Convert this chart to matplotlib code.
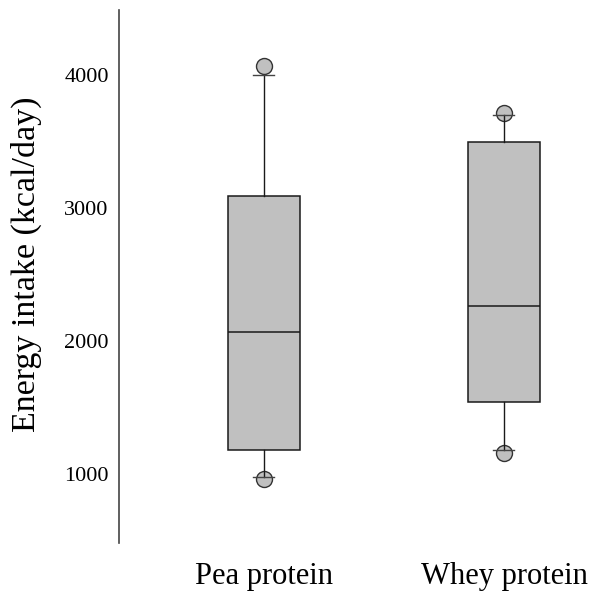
import matplotlib
matplotlib.use("Agg")
import matplotlib.pyplot as plt

plt.rcParams['font.family'] = ['Liberation Serif', 'DejaVu Serif']

groups = ["Pea protein", "Whey protein"]
q1 = [1180, 1541]
median = [2068, 2263]
q3 = [3090, 3496]
whisker_low = [977, 1180]
whisker_high = [4000, 3700]
point_low = [962, 1158]
point_high = [4068, 3714]

stats = []
for i in range(len(groups)):
    stats.append({
        "label": groups[i],
        "q1": q1[i], "med": median[i], "q3": q3[i],
        "whislo": whisker_low[i], "whishi": whisker_high[i],
        "fliers": [],
    })

fig = plt.figure(figsize=(5.94, 5.94), dpi=100)
ax = fig.add_axes([0.1995, 0.0859, 0.8005, 0.897])

pos = [1, 2]
ax.bxp(stats, positions=pos, widths=0.3, patch_artist=True,
       showfliers=False, capwidths=0.0875,
       boxprops=dict(facecolor="#c0c0c0", edgecolor="#1a1a1a", linewidth=1.1),
       medianprops=dict(color="#1a1a1a", linewidth=1.1),
       whiskerprops=dict(color="#1a1a1a", linewidth=1.0),
       capprops=dict(color="#444444", linewidth=1.0))

# min / max markers at the whisker ends
for i in range(len(groups)):
    ax.plot([pos[i], pos[i]], [point_low[i], point_high[i]], linestyle="None",
            marker="o", markersize=11.5, markerfacecolor="#c0c0c0",
            markeredgecolor="#333333", markeredgewidth=1.0, zorder=1)

ax.set_xlim(0.394, 2.375)
ax.set_ylim(481, 4489)
ax.set_yticks([1000, 2000, 3000, 4000])
ax.tick_params(axis="y", length=0, pad=7, labelsize=16)
ax.tick_params(axis="x", length=0, pad=14, labelsize=22)
ax.set_ylabel("Energy intake (kcal/day)", fontsize=24.5)
ax.yaxis.set_label_coords(-0.161, 0.524)

for s in ["top", "right", "bottom"]:
    ax.spines[s].set_visible(False)
ax.spines["left"].set_color("#444444")
ax.spines["left"].set_linewidth(1.2)

plt.savefig("out.png", dpi=100)
